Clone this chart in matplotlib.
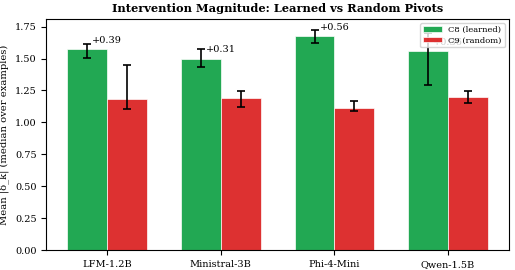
import numpy as np
import matplotlib
matplotlib.use("Agg")
import matplotlib.pyplot as plt

plt.rcParams["font.family"] = ["DejaVu Serif"]

# ── Data ───────────────────────────────────────────────────────────────────
models = ["LFM-1.2B", "Ministral-3B", "Phi-4-Mini", "Qwen-1.5B"]

c8_vals = [1.572, 1.498, 1.674, 1.556]
c8_lo   = [1.505, 1.430, 1.620, 1.294]
c8_hi   = [1.610, 1.573, 1.724, 1.700]

c9_vals = [1.184, 1.188, 1.115, 1.198]
c9_lo   = [1.104, 1.117, 1.086, 1.151]
c9_hi   = [1.448, 1.242, 1.164, 1.245]

GREEN = "#16a34a"
RED   = "#dc2626"
WIDTH = 0.35

x = np.arange(len(models))
c8 = np.array(c8_vals)
c9 = np.array(c9_vals)
c8_err = [c8 - np.array(c8_lo), np.array(c8_hi) - c8]
c9_err = [c9 - np.array(c9_lo), np.array(c9_hi) - c9]

fig, ax = plt.subplots(figsize=(5.15, 2.7), dpi=100)

ax.bar(x - WIDTH / 2, c8, WIDTH, yerr=c8_err, capsize=3, color=GREEN,
       alpha=0.95, edgecolor="white", linewidth=0.5, label="C8 (learned)",
       error_kw=dict(elinewidth=1.2, capthick=1.2, ecolor="black"))
ax.bar(x + WIDTH / 2, c9, WIDTH, yerr=c9_err, capsize=3, color=RED,
       alpha=0.95, edgecolor="white", linewidth=0.5, label="C9 (random)",
       error_kw=dict(elinewidth=1.2, capthick=1.2, ecolor="black"))

# difference labels above the learned bars
for xi, a, b in zip(x, c8, c9):
    ax.text(xi, a + 0.035, f"+{a - b:.2f}", ha="center", va="bottom",
            fontsize=7)

ax.set_xticks(x)
ax.set_xticklabels(models, fontsize=7)
ax.tick_params(axis="y", labelsize=7)
ax.set_ylabel("Mean |δ_k| (median over examples)", fontsize=7.2)
ax.set_title("Intervention Magnitude: Learned vs Random Pivots",
             fontsize=8.2, fontweight="bold", pad=5)
ax.legend(loc="upper right", fontsize=6, handlelength=2.2,
          borderpad=0.35, labelspacing=0.3)

plt.subplots_adjust(left=0.09, right=0.988, bottom=0.074, top=0.93)
fig.savefig("out.png", dpi=100)
